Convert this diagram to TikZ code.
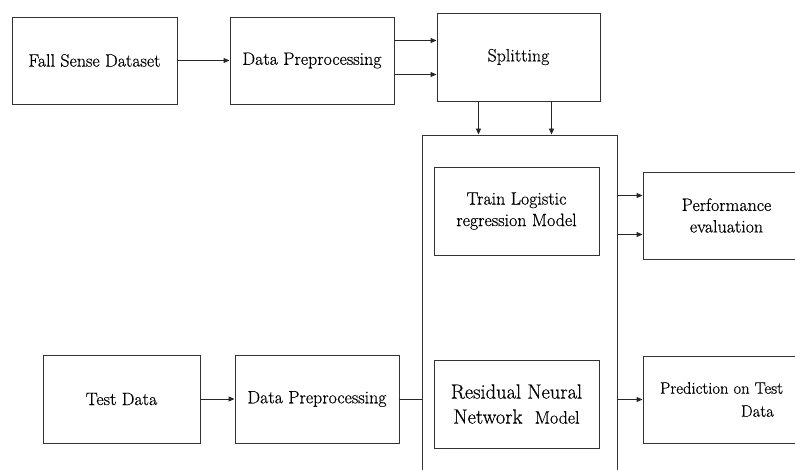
\documentclass[tikz,border=0pt]{standalone}
\usepackage{fontspec}
\setmainfont{Latin Modern Roman}[UprightFeatures={FakeBold=0.5}]
\usetikzlibrary{arrows.meta}

\begin{document}
\begin{tikzpicture}[x=1pt, y=-1pt,
      every node/.style = {shape=rectangle, draw=black!80, line width=0.9pt,
        align=center, inner sep=0pt, font=\fontsize{17.9}{21.5}\selectfont},
      box/.style = {minimum width=165pt, minimum height=88pt},
      link/.style = {draw=black!85, line width=0.9pt},
      >={Triangle[length=6pt, width=5pt]}]
      \useasboundingbox (0,0) rectangle (795,470);
      \clip (0,0) rectangle (795,470);
      % top row
      \node[box, minimum height=87pt] (fall) at (94.5,60.5) {Fall Sense Dataset};
      \node[box, minimum width=164pt, minimum height=87pt] (prep) at (312,60.5) {Data Preprocessing};
      \node[box, minimum width=163pt] (split) at (518.5,57) {Splitting};
      % models
      \node[minimum width=195pt, minimum height=350pt] (model) at (519.5,310) {};
      \node[box] (train) at (516.5,211) {Train Logistic\\regression Model};
      \node[box, font=\fontsize{20.5}{25}\selectfont] (resnet) at (516.5,404)
        {Residual Neural\\Network~ {\fontsize{17.9}{25}\selectfont Model}};
      % outputs
      \node[box, minimum width=167pt, minimum height=87pt] (perf) at (726.5,215.5) {Performance\\evaluation};
      \node[box, minimum width=167pt, minimum height=87pt, align=left,
        font=\fontsize{16.6}{23}\selectfont] (pred) at (726.5,399.5)
        {Prediction on Test\hspace*{10pt}\\\hspace*{81pt}Data};
      % bottom row
      \node[box, minimum width=157pt] (test) at (121.5,399) {Test Data};
      \node[box, minimum width=164pt] (prep2) at (317,399) {Data Preprocessing};

      \coordinate (s1) at ([xshift=-40pt]split.south);
      \coordinate (s2) at ([xshift=33pt]split.south);
      \coordinate (p1) at ([yshift=20pt]perf.west);
      \coordinate (p2) at ([yshift=-19pt]perf.west);

      \draw[link, ->] (fall) -- (prep);
      \draw[link, ->] ([yshift=20pt]prep.east) -- ([yshift=20pt]prep.east -| split.west);
      \draw[link, ->] ([yshift=-14pt]prep.east) -- ([yshift=-14pt]prep.east -| split.west);
      \draw[link, ->] (s1) -- (s1 |- model.north);
      \draw[link, ->] (s2) -- (s2 |- model.north);
      \draw[link, ->] (p1 -| model.east) -- (p1);
      \draw[link, ->] (p2 -| model.east) -- (p2);
      \draw[link, ->] (test) -- (prep2);
      \draw[link] (prep2.east) -- (prep2.east -| model.west);
      \draw[link, ->] (pred.west -| model.east) -- (pred.west);
    \end{tikzpicture}
\end{document}
